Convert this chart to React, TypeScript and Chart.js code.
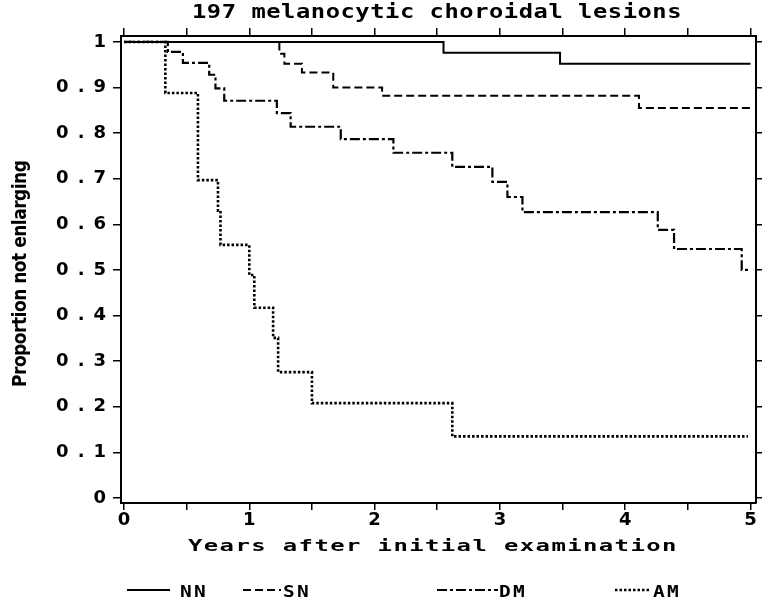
import { useEffect, useRef } from "react";
import { Chart, registerables } from "chart.js";

Chart.register(...registerables);

const TITLE = "197 melanocytic choroidal lesions";
const X_TITLE = "Years after initial examination";
const Y_TITLE = "Proportion not enlarging";

const seriesNames = ["NN", "SN", "DM", "AM"];

const nnYears = [0, 2.55, 3.48, 5];
const nnValues = [1, 0.976, 0.952, 0.952];

const snYears = [0, 1.24, 1.28, 1.42, 1.67, 2.06, 4.11, 5];
const snValues = [1, 0.974, 0.952, 0.933, 0.9, 0.882, 0.855, 0.855];

const dmYears = [0, 0.35, 0.47, 0.68, 0.73, 0.8, 1.22, 1.33, 1.73, 2.15, 2.62, 2.94, 3.06, 3.18, 4.26, 4.39, 4.93, 5];
const dmValues = [1, 0.978, 0.954, 0.928, 0.898, 0.871, 0.844, 0.814, 0.787, 0.757, 0.726, 0.693, 0.66, 0.627, 0.588, 0.546, 0.5, 0.5];

const amYears = [0, 0.33, 0.59, 0.75, 0.77, 1.0, 1.04, 1.19, 1.23, 1.5, 2.62, 4.98];
const amValues = [1, 0.888, 0.697, 0.63, 0.555, 0.489, 0.417, 0.351, 0.276, 0.208, 0.135, 0.135];

const xTickValues = [0, 0.5, 1, 1.5, 2, 2.5, 3, 3.5, 4, 4.5, 5];
const xTickLabels = ["0", "", "1", "", "2", "", "3", "", "4", "", "5"];
const yTickValues = [0, 0.1, 0.2, 0.3, 0.4, 0.5, 0.6, 0.7, 0.8, 0.9, 1];
const yTickLabels = ["0", "0.1", "0.2", "0.3", "0.4", "0.5", "0.6", "0.7", "0.8", "0.9", "1"];

const X_MIN = -0.024;
const X_MAX = 5.044;
const Y_MIN = -0.011;
const Y_MAX = 1.013;

const MONO = '"DejaVu Sans Mono", monospace';
const SANS = '"DejaVu Sans", sans-serif';
const NARROW = '"DejaVu Sans Condensed", "Liberation Sans Narrow", "DejaVu Sans", sans-serif';
const TICK_SPACING = 9;

const setSpacing = (chart: any) => {
  chart.ctx.letterSpacing = TICK_SPACING + "px";
};

function drawWide(ctx: any, text: string, left: number, baseline: number, size: number, advance: number, stretch: number) {
  ctx.save();
  ctx.fillStyle = "#000";
  ctx.font = "bold " + size + "px " + MONO;
  ctx.letterSpacing = "0px";
  const adv0 = ctx.measureText(text).width / text.length;
  ctx.letterSpacing = advance / stretch - adv0 + "px";
  ctx.translate(left, baseline);
  ctx.scale(stretch, 1);
  ctx.textAlign = "left";
  ctx.textBaseline = "alphabetic";
  ctx.fillText(text, 0, 0);
  ctx.restore();
}

const textPlugin = {
  id: "textPlugin",
  beforeUpdate: setSpacing,
  beforeLayout: setSpacing,
  beforeDraw: setSpacing,
  afterDraw(chart: any) {
    const ctx = chart.ctx;
    // title and x-axis title
    drawWide(ctx, TITLE, 192, 18, 19, 14.85, 1.25);
    drawWide(ctx, X_TITLE, 188, 551, 16.5, 15.8, 1.45);

    // y-axis title
    ctx.save();
    ctx.fillStyle = "#000";
    ctx.font = "bold 19px " + NARROW;
    ctx.letterSpacing = "0px";
    const w0 = ctx.measureText(Y_TITLE).width;
    const sp = (227 - w0) / (Y_TITLE.length - 1);
    ctx.letterSpacing = sp + "px";
    ctx.translate(26, 387);
    ctx.rotate(-Math.PI / 2);
    ctx.textAlign = "left";
    ctx.textBaseline = "alphabetic";
    ctx.fillText(Y_TITLE, 0, 0);
    ctx.restore();

    // legend
    const legendY = 590;
    const items = [
      { x0: 127, x1: 170, tx: 180 },
      { x0: 243, x1: 281, tx: 283 },
      { x0: 437, x1: 498, tx: 499 },
      { x0: 615, x1: 651, tx: 653 },
    ];
    chart.data.datasets.forEach((ds: any, i: number) => {
      const it = items[i];
      ctx.save();
      ctx.strokeStyle = "#000";
      ctx.lineWidth = ds.borderWidth;
      ctx.setLineDash(ds.borderDash || []);
      ctx.beginPath();
      ctx.moveTo(it.x0, legendY);
      ctx.lineTo(it.x1, legendY);
      ctx.stroke();
      ctx.restore();
      drawWide(ctx, ds.label, it.tx, 597, 15, 14, 1.3);
    });
  },
};

const tickFont = { family: SANS, weight: "bold" as const, size: 18 };
const gridOpts = { drawOnChartArea: false, drawTicks: true, tickLength: 8, color: "#000", lineWidth: 1.5 };
const borderOpts = { display: true, color: "#000", width: 2 };

export default function App() {
  const ref = useRef<HTMLCanvasElement>(null);
  useEffect(() => {
    const canvas = ref.current;
    if (!canvas) return;
    const mk = (label: string, xs: number[], ys: number[], dash: number[], width: number) => ({
      label,
      data: xs.map((x, i) => ({ x, y: ys[i] })),
      borderColor: "#000",
      backgroundColor: "#000",
      borderWidth: width,
      borderDash: dash,
      stepped: true,
      pointRadius: 0,
      fill: false,
    });
    const chart = new Chart(canvas, {
      type: "line",
      data: {
        datasets: [
          mk(seriesNames[0], nnYears, nnValues, [], 2),
          mk(seriesNames[1], snYears, snValues, [8, 4], 2),
          mk(seriesNames[2], dmYears, dmValues, [10, 3, 3, 3], 2.2),
          mk(seriesNames[3], amYears, amValues, [2.5, 2], 2.6),
        ],
      },
      options: {
        responsive: false,
        animation: false,
        layout: { padding: 0 },
        plugins: {
          legend: { display: false },
          title: { display: false },
          tooltip: { enabled: false },
        },
        scales: {
          x: {
            type: "linear",
            position: "bottom",
            min: X_MIN,
            max: X_MAX,
            afterBuildTicks: (s: any) => {
              s.ticks = xTickValues.map((v) => ({ value: v }));
            },
            afterFit: (s: any) => {
              s.height = 103;
            },
            ticks: {
              autoSkip: false,
              maxRotation: 0,
              color: "#000",
              font: tickFont,
              padding: 0,
              labelOffset: TICK_SPACING / 2,
              callback: (_v: any, i: number) => xTickLabels[i],
            },
            grid: { ...gridOpts, tickLength: 7 },
            border: borderOpts,
          },
          x2: {
            type: "linear",
            position: "top",
            min: X_MIN,
            max: X_MAX,
            afterBuildTicks: (s: any) => {
              s.ticks = xTickValues.map((v) => ({ value: v }));
            },
            afterFit: (s: any) => {
              s.height = 36;
            },
            ticks: { display: false },
            grid: gridOpts,
            border: borderOpts,
          },
          y: {
            type: "linear",
            position: "left",
            min: Y_MIN,
            max: Y_MAX,
            afterBuildTicks: (s: any) => {
              s.ticks = yTickValues.map((v) => ({ value: v }));
            },
            afterFit: (s: any) => {
              s.width = 121;
            },
            ticks: {
              color: "#000",
              font: tickFont,
              padding: -2,
              callback: (_v: any, i: number) => yTickLabels[i],
            },
            grid: gridOpts,
            border: borderOpts,
          },
          y2: {
            type: "linear",
            position: "right",
            min: Y_MIN,
            max: Y_MAX,
            afterBuildTicks: (s: any) => {
              s.ticks = yTickValues.map((v) => ({ value: v }));
            },
            afterFit: (s: any) => {
              s.width = 9;
            },
            ticks: { display: false },
            grid: { ...gridOpts, tickLength: 6 },
            border: borderOpts,
          },
        },
      } as any,
      plugins: [textPlugin as any],
    });
    return () => chart.destroy();
  }, []);
  return (
    <div style={{ position: "absolute", left: 0, top: 0, width: 765, height: 606, background: "#fff" }}>
      <canvas ref={ref} width={765} height={606} style={{ display: "block" }} />
    </div>
  );
}
